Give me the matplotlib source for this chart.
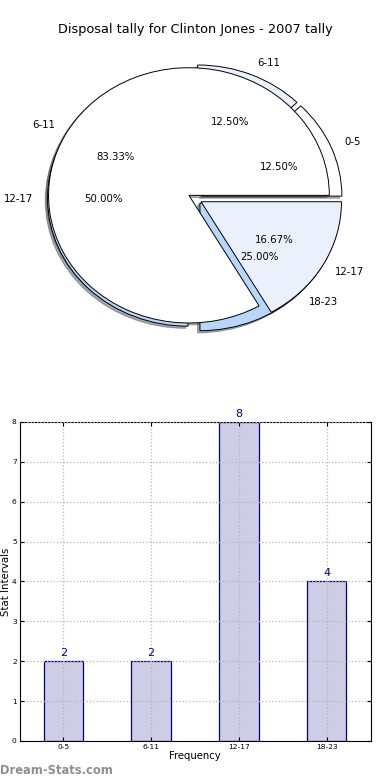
import matplotlib
matplotlib.use('Agg')
import matplotlib.pyplot as plt

# Pie 1 - full tally
outer_labels = ['0-5', '6-11', '12-17', '18-23']
outer_values = [2, 2, 8, 4]
outer_colors = ['white', '#eaf1fd', '#b8d6fb', '#b8d6fb']

# Pie 2 - drawn over the first one
inner_labels = ['6-11', '12-17']
inner_values = [10, 2]
inner_colors = ['white', '#eaf1fd']

# Bar chart
bar_labels = ['0-5', '6-11', '12-17', '18-23']
bar_values = [2, 2, 8, 4]

fig = plt.figure(figsize=(3.9, 7.8), dpi=100)
fig.subplots_adjust(left=0.05, right=0.95, bottom=0.05, top=0.95, hspace=0.2)

# Top - pie chart
ax1 = fig.add_subplot(2, 1, 1)
wedge_style = dict(edgecolor='black', linewidth=0.7)
shadow_style = dict(ox=-0.012, oy=-0.012, alpha=0.45)
for vals, labs, cols in [(outer_values, outer_labels, outer_colors),
                         (inner_values, inner_labels, inner_colors)]:
    _, texts, autotexts = ax1.pie(vals, labels=labs, colors=cols,
                                  explode=[0.05] * len(vals), shadow=shadow_style,
                                  autopct='%1.2f%%', wedgeprops=wedge_style)
    for t in texts + autotexts:
        t.set_fontsize(7.3)
ax1.set_aspect('auto')
ax1.set_xlim(-1.25, 1.25)
ax1.set_ylim(-1.25, 1.25)
ax1.set_title('Disposal tally for Clinton Jones - 2007 tally', fontsize=9.3, pad=4)

# Bottom - bar chart
ax2 = fig.add_subplot(2, 1, 2)
pos = range(len(bar_values))
ax2.bar(pos, bar_values, width=0.45, color='#cdcde6', edgecolor='#000080', linewidth=0.9)
for i, v in zip(pos, bar_values):
    ax2.text(i, v + 0.08, str(v), ha='center', va='bottom', color='#000080', fontsize=8)
ax2.set_xlim(-0.5, 3.5)
ax2.set_ylim(0, 8)
ax2.set_xticks(list(pos))
ax2.set_xticklabels(bar_labels)
ax2.set_yticks(range(9))
ax2.tick_params(labelsize=5.4, direction='in', top=True, right=True, length=3, pad=2)
ax2.set_axisbelow(False)
ax2.grid(True, linestyle=':', color='#b5b5b5', linewidth=0.9)
ax2.set_xlabel('Frequency', fontsize=7.3, labelpad=1)
ax2.set_ylabel('Stat Intervals', fontsize=7.3, labelpad=1)

fig.text(0.0, 0.008, 'Dream-Stats.com', color='#8f8f8f', fontsize=8.3, weight='semibold')

fig.savefig('out.png', dpi=100)
